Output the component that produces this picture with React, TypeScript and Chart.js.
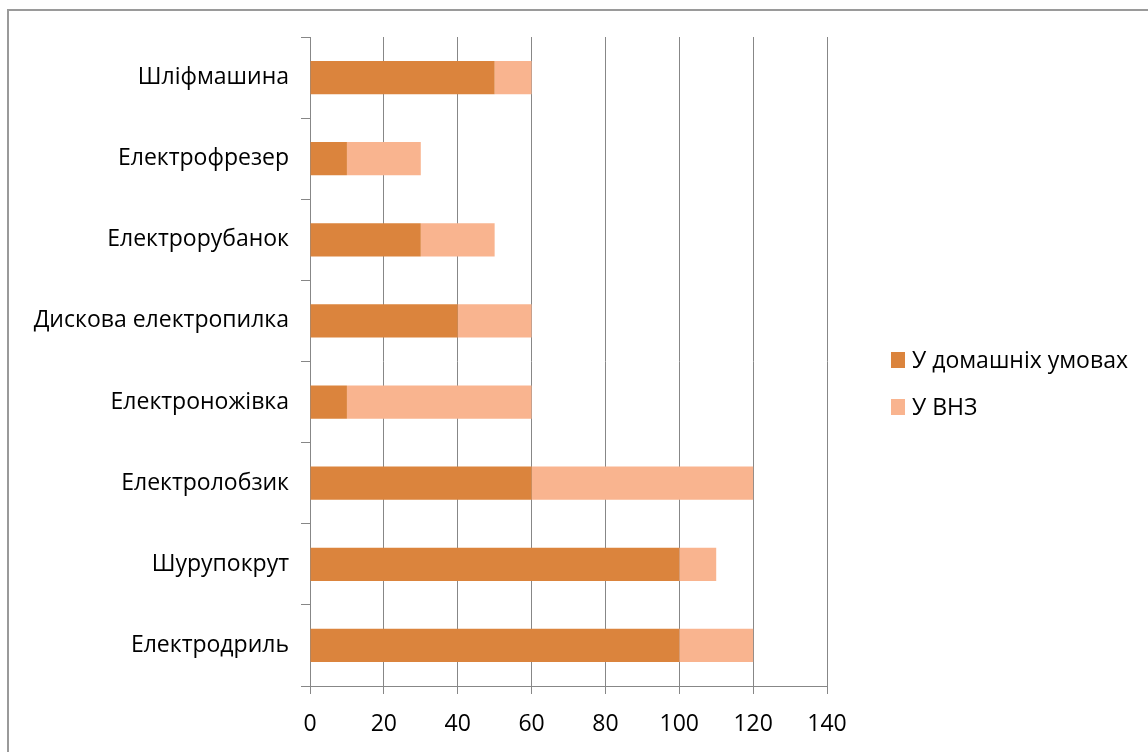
import React, { useEffect, useRef } from "react";
import { Chart, registerables } from "chart.js";

Chart.register(...registerables);

const categories = [
  "Шліфмашина",
  "Електрофрезер",
  "Електрорубанок",
  "Дискова електропилка",
  "Електроножівка",
  "Електролобзик",
  "Шурупокрут",
  "Електродриль",
];
const homeValues = [50, 10, 30, 40, 10, 60, 100, 100];
const universityValues = [10, 20, 20, 20, 50, 60, 10, 20];
const seriesNames = ["У домашніх умовах", "У ВНЗ"];
const xMin = 0;
const xMax = 140;
const xStep = 20;

const FONT = "'Open Sans', 'Liberation Sans', sans-serif";
const FONT_SIZE = 23;
const LEGEND_FONT_SIZE = 23;
const GRID = "#878787";

const legendPlugin = {
  id: "customLegend",
  afterDraw(chart: any) {
    const ctx = chart.ctx;
    const x = 891;
    const ys = [360, 407];
    ctx.save();
    ctx.font = `${LEGEND_FONT_SIZE}px ${FONT}`;
    ctx.textBaseline = "middle";
    ctx.textAlign = "left";
    chart.data.datasets.forEach((ds: any, i: number) => {
      const y = ys[i];
      ctx.fillStyle = ds.backgroundColor;
      ctx.fillRect(x, y - 8, 14, 16);
      ctx.fillStyle = "#000";
      ctx.fillText(ds.label, x + 21, y + 1);
    });
    ctx.restore();
  },
};

export default function App() {
  const ref = useRef<HTMLCanvasElement>(null);
  useEffect(() => {
    if (!ref.current) return;
    const chart = new Chart(ref.current, {
      type: "bar",
      data: {
        labels: categories,
        datasets: [
          {
            label: seriesNames[0],
            data: homeValues,
            backgroundColor: "#DB843D",
            barPercentage: 0.41,
            categoryPercentage: 1,
          },
          {
            label: seriesNames[1],
            data: universityValues,
            backgroundColor: "#F9B48F",
            barPercentage: 0.41,
            categoryPercentage: 1,
          },
        ],
      },
      options: {
        indexAxis: "y",
        responsive: false,
        animation: false,
        devicePixelRatio: 1,
        layout: { padding: { top: 37, left: 0, right: 321, bottom: 0 } },
        plugins: {
          legend: { display: false },
          tooltip: { enabled: false },
        },
        scales: {
          x: {
            stacked: true,
            min: xMin,
            max: xMax,
            ticks: {
              stepSize: xStep,
              color: "#000",
              font: { family: FONT, size: FONT_SIZE },
              padding: 17,
              maxRotation: 0,
            },
            grid: { color: GRID, tickLength: 8, lineWidth: 1 },
            border: { color: GRID, width: 1 },
            afterFit(scale: any) {
              scale.height = 66;
            },
          },
          y: {
            stacked: true,
            ticks: {
              color: "#000",
              font: { family: FONT, size: FONT_SIZE },
              padding: 12,
            },
            grid: {
              color: GRID,
              drawOnChartArea: false,
              tickLength: 9,
              offset: true,
            },
            border: { color: GRID, width: 1 },
            afterFit(scale: any) {
              scale.width = 310;
            },
          },
        },
      },
      plugins: [legendPlugin],
    });
    return () => chart.destroy();
  }, []);

  return (
    <div
      style={{
        position: "fixed",
        left: 0,
        top: 0,
        width: 1148,
        height: 752,
        overflow: "hidden",
        background: "#fff",
      }}
    >
      <div
        style={{
          position: "absolute",
          left: 7,
          top: 9,
          width: 1200,
          height: 800,
          border: "2px solid #9a9a9a",
        }}
      />
      <canvas
        ref={ref}
        width={1148}
        height={752}
        style={{ position: "absolute", left: 0, top: 0, width: 1148, height: 752 }}
      />
    </div>
  );
}
